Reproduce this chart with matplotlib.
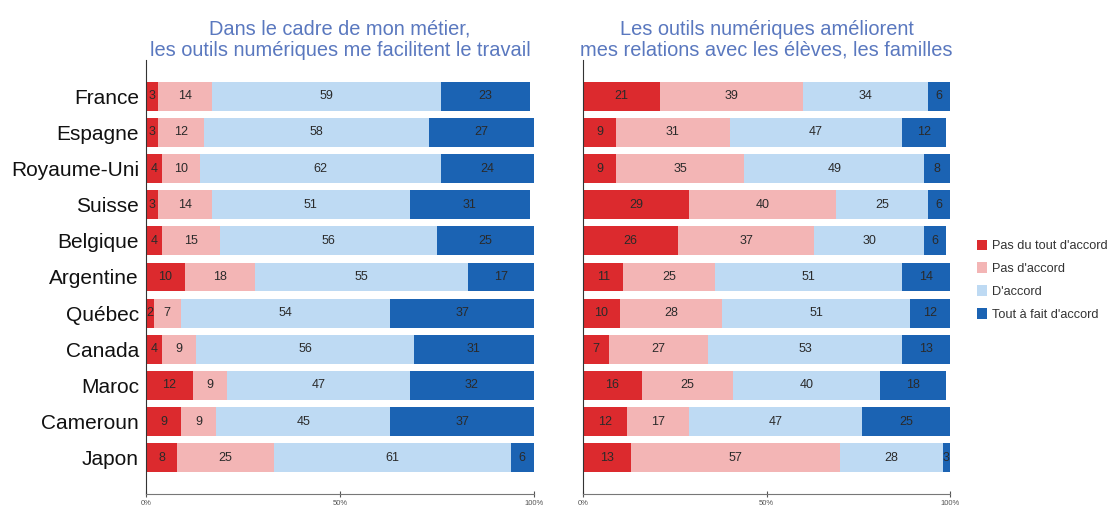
import numpy as np
import matplotlib.pyplot as plt

plt.rcParams['font.family'] = ['Liberation Sans', 'DejaVu Sans']

countries = ['France', 'Espagne', 'Royaume-Uni', 'Suisse', 'Belgique', 'Argentine',
             'Québec', 'Canada', 'Maroc', 'Cameroun', 'Japon']
categories = ["Pas du tout d'accord", "Pas d'accord", "D'accord", "Tout à fait d'accord"]
colors = ['#dc2a2e', '#f3b5b5', '#bedaf3', '#1b63b3']

# Dans le cadre de mon métier, les outils numériques me facilitent le travail
left_pas_du_tout = [3, 3, 4, 3, 4, 10, 2, 4, 12, 9, 8]
left_pas = [14, 12, 10, 14, 15, 18, 7, 9, 9, 9, 25]
left_accord = [59, 58, 62, 51, 56, 55, 54, 56, 47, 45, 61]
left_tout = [23, 27, 24, 31, 25, 17, 37, 31, 32, 37, 6]

# Les outils numériques améliorent mes relations avec les élèves, les familles
right_pas_du_tout = [21, 9, 9, 29, 26, 11, 10, 7, 16, 12, 13]
right_pas = [39, 31, 35, 40, 37, 25, 28, 27, 25, 17, 57]
right_accord = [34, 47, 49, 25, 30, 51, 51, 53, 40, 47, 28]
right_tout = [6, 12, 8, 6, 6, 14, 12, 13, 18, 25, 3]

titles = ['Dans le cadre de mon métier,\nles outils numériques me facilitent le travail',
          'Les outils numériques améliorent\nmes relations avec les élèves, les familles']

fig = plt.figure(figsize=(11.2, 5.13), dpi=100)
ax1 = fig.add_axes([146 / 1120, 1 - 494 / 513, 388 / 1120, 434 / 513])
ax2 = fig.add_axes([583 / 1120, 1 - 494 / 513, 367 / 1120, 434 / 513])

ind = np.arange(len(countries))


def draw(ax, series, title, show_names):
    left = np.zeros(len(countries))
    handles = []
    for vals, col, name in zip(series, colors, categories):
        vals = np.array(vals, dtype=float)
        bars = ax.barh(ind, vals, 0.8, left=left, color=col, label=name)
        ax.bar_label(bars, labels=['%d' % v for v in vals], label_type='center',
                     fontsize=9, color='#2a2a2a')
        handles.append(bars)
        left = left + vals
    ax.set_ylim(11, -1)
    ax.set_xlim(0, 100)
    ax.set_yticks(ind)
    if show_names:
        ax.set_yticklabels(countries, fontsize=15, color='#111111')
    else:
        ax.set_yticklabels([])
    ax.tick_params(axis='y', length=0, pad=5)
    ax.set_xticks([0, 50, 100])
    ax.set_xticklabels(['0%', '50%', '100%'], fontsize=5.5, color='#555555')
    ax.tick_params(axis='x', length=4, direction='inout', pad=2, color='#555555')
    for s in ['top', 'right']:
        ax.spines[s].set_visible(False)
    ax.spines['left'].set_color('#333333')
    ax.spines['bottom'].set_color('#777777')
    ax.set_title(title, fontsize=14.4, color='#5a78bf', pad=3, linespacing=1.15)
    return handles


draw(ax1, [left_pas_du_tout, left_pas, left_accord, left_tout], titles[0], True)
handles = draw(ax2, [right_pas_du_tout, right_pas, right_accord, right_tout], titles[1], False)

fig.legend(handles, categories, loc='upper left', bbox_to_anchor=(965 / 1120, 1 - 228 / 513),
           frameon=False, fontsize=9.2, handlelength=0.8, handleheight=0.9,
           handletextpad=0.4, labelspacing=0.8, labelcolor='#333333')

fig.savefig('out.png', dpi=100)
